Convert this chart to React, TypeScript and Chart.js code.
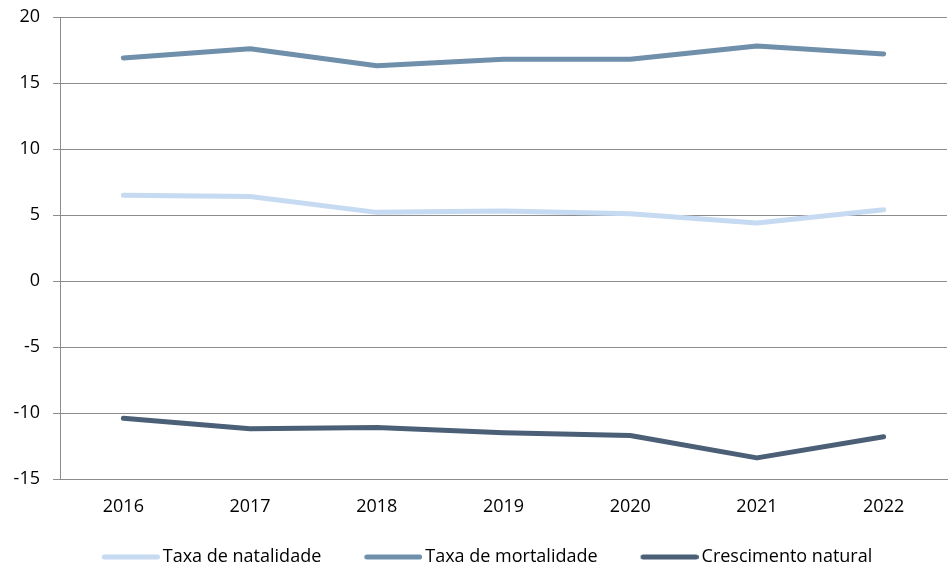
import React, { useEffect, useRef } from "react";
import { Chart, registerables } from "chart.js";

Chart.register(...registerables);

const years = ["2016", "2017", "2018", "2019", "2020", "2021", "2022"];
const natalidade = [6.5, 6.4, 5.2, 5.3, 5.1, 4.4, 5.4];
const mortalidade = [16.9, 17.6, 16.3, 16.8, 16.8, 17.8, 17.2];
const crescimento = [-10.4, -11.2, -11.1, -11.5, -11.7, -13.4, -11.8];
const seriesNames = ["Taxa de natalidade", "Taxa de mortalidade", "Crescimento natural"];
const seriesColors = ["#c6daf1", "#6f8fab", "#4b5f77"];

const FONT = "'Open Sans', sans-serif";

// Legend swatch: a 91px-wide image centred on a 79px legend box; the visible
// line sits at its right end, just before the label text.
function legendSwatch(color: string): HTMLCanvasElement {
  const c = document.createElement("canvas");
  c.width = 91;
  c.height = 8;
  const g = c.getContext("2d")!;
  g.strokeStyle = color;
  g.lineWidth = 5;
  g.lineCap = "round";
  g.beginPath();
  g.moveTo(35.5, 4);
  g.lineTo(88.5, 4);
  g.stroke();
  return c;
}

export default function App() {
  const ref = useRef<HTMLCanvasElement | null>(null);
  useEffect(() => {
    document.body.style.margin = "0";
    const ctx = ref.current!;
    const data = [natalidade, mortalidade, crescimento];
    const swatches = seriesColors.map(legendSwatch);
    const chart = new Chart(ctx, {
      type: "line",
      data: {
        labels: years,
        datasets: data.map((d, i) => ({
          label: seriesNames[i],
          data: d,
          borderColor: seriesColors[i],
          backgroundColor: seriesColors[i],
          borderWidth: 5,
          borderCapStyle: "round",
          borderJoinStyle: "round",
          pointRadius: 0,
          pointHoverRadius: 0,
          tension: 0,
        })),
      },
      options: {
        animation: false,
        responsive: false,
        maintainAspectRatio: false,
        layout: { padding: { top: 17, right: 1, left: 0, bottom: -7 } },
        plugins: {
          tooltip: { enabled: false },
          legend: {
            position: "bottom",
            labels: {
              usePointStyle: true,
              pointStyleWidth: 79,
              padding: 16,
              color: "#000",
              font: { family: FONT, size: 18 },
              generateLabels: (ch: any) =>
                ch.data.datasets.map((ds: any, i: number) => ({
                  text: ds.label,
                  fillStyle: ds.borderColor,
                  strokeStyle: ds.borderColor,
                  lineWidth: 0,
                  pointStyle: swatches[i],
                  hidden: false,
                  datasetIndex: i,
                  fontColor: "#000",
                })),
            },
          },
        },
        scales: {
          x: {
            offset: true,
            grid: { display: false, drawTicks: false },
            border: { display: true, color: "#8c8c8c", width: 1 },
            ticks: {
              color: "#000",
              padding: 17,
              font: { family: FONT, size: 18 },
            },
            afterFit: (s: any) => {
              s.height = 53;
            },
          },
          y: {
            min: -15,
            max: 20,
            ticks: {
              stepSize: 5,
              color: "#000",
              padding: 13,
              font: { family: FONT, size: 18 },
            },
            grid: { color: "#8c8c8c", lineWidth: 1, tickLength: 7 },
            border: { display: true, color: "#8c8c8c", width: 1 },
            afterFit: (s: any) => {
              s.width = 60;
              s.paddingTop = 10;
              s.paddingBottom = 10;
            },
          },
        },
      },
    });
    return () => chart.destroy();
  }, []);
  return (
    <div style={{ width: 948, height: 569 }}>
      <canvas ref={ref} width={948} height={569} style={{ display: "block" }} />
    </div>
  );
}
